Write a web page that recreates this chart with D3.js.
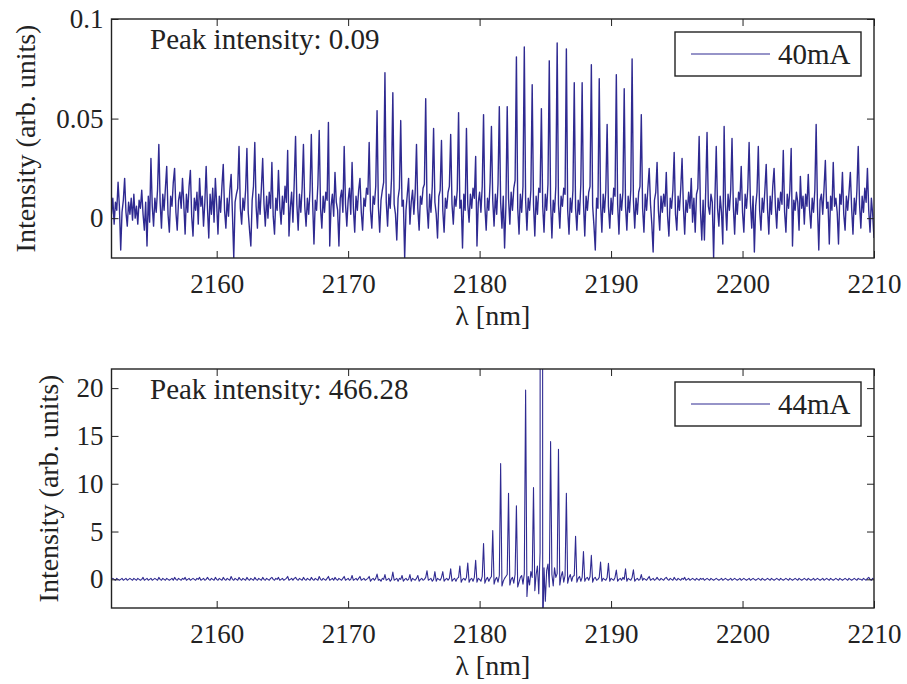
<!DOCTYPE html>
<html>
<head>
<meta charset="utf-8">
<script src="https://cdn.jsdelivr.net/npm/d3@7"></script>
<style>
  body { margin: 0; background: #fff; }
  svg text { font-family: "Liberation Serif", "Times New Roman", serif; fill: #222; }
</style>
</head>
<body>
<div id="chart"></div>
<script>
// wavelength grid of the spectra (nm)
var lambdaStart = 2152, lambdaEnd = 2210, lambdaStep = 0.1;

// 40mA spectrum, values in units of 1e-3 (arb. units), one row per nm
var intensity40mA = [
  2, 10, -3, 8, 4, 18, 6, -16, 3, 9,
  20, 3, -4, 8, 2, 10, -1, 12, 0, 6,
  -3, 9, 5, 14, 2, -6, 8, -14, 11, -2,
  30, 6, -4, 10, 3, 14, 37, 8, -5, 12,
  4, 15, 26, 2, -7, 11, 6, 18, 25, 3,
  -6, 9, 13, 5, 20, 7, -8, 12, 3, 16,
  24, 1, -9, 10, 4, 13, -3, 20, 6, 11,
  -4, 8, 26, 5, -10, 12, 2, 15, -2, 20,
  7, -8, 11, 3, 16, 27, 4, -5, 10, 1,
  14, 22, 2, -20, 8, 12, 15, 36, 5, -3,
  10, 4, 14, 35, 3, -6, -14, 9, 16, 38,
  6, -5, 12, 2, 15, 30, 7, -4, 11, 0,
  13, 5, 28, 1, -8, 10, 4, 24, 6, -3,
  11, 2, 16, 8, 34, -9, 5, 13, -2, 18,
  41, 7, -6, 12, 3, 15, 37, 6, -4, 10,
  2, 14, 42, 8, -13, 9, 4, 17, 44, 5,
  -5, 11, 3, 13, 9, 48, -14, 6, 12, 1,
  23, 8, 4, -14, 10, 14, 3, 36, 7, -4,
  9, 15, 2, 28, 5, -7, 11, 4, 14, 20,
  3, -6, 10, 6, 15, 12, 38, 4, -5, 11,
  7, 16, 54, 6, -7, 9, 14, 18, 73, 8,
  -4, 12, 5, 20, 63, 7, 2, -11, 10, 15,
  49, 6, 9, -20, 4, 12, 20, -3, 8, 14,
  2, 13, 37, 5, -6, 11, 7, 15, 17, 60,
  6, -5, 12, 3, 16, 45, 8, 2, -10, 11,
  14, 39, 4, -7, 10, 5, 13, 16, 42, 7,
  -3, 11, 6, 14, 53, 5, 9, -15, 12, 4,
  45, 7, -2, 12, 5, 15, 10, 31, -14, 8,
  13, 3, 16, 52, 6, -6, 10, 4, 18, 46,
  9, -4, 12, 2, 17, 56, 8, -5, 11, -15,
  6, 56, 10, -3, 13, 4, 15, 19, 81, 5,
  -8, 12, 3, 16, 86, 9, -6, 10, 4, 14,
  67, 7, -9, 11, 2, 15, 13, 55, 6, -7,
  12, 4, 17, 79, 8, -10, 9, 3, 16, 88,
  7, -5, 11, 6, 15, 12, 85, 4, -8, 10,
  3, 14, 68, 5, -6, 9, 2, 17, 68, 8,
  -9, 11, 4, 13, 16, 77, 6, -4, -16, 10,
  5, 70, 8, -7, 12, 3, 14, 47, 6, -5,
  10, 2, 15, 11, 72, 7, -8, 12, 4, 13,
  65, 6, -6, 11, 3, 14, 80, 9, -5, 10,
  2, 13, 16, 52, 5, -7, 12, 4, 15, 25,
  7, -3, -17, 9, 13, 28, 4, -6, 11, 3,
  12, 6, 23, 1, -9, 10, 5, 14, 33, 2,
  -6, 11, 4, 15, 30, 6, -8, 9, 3, 13,
  5, 20, -2, 10, -7, 12, 15, 41, 4, -11,
  9, -11, 14, 43, 6, 2, 12, 8, -20, 10,
  36, 5, -4, 11, 3, -13, 46, 7, -6, 12,
  4, 14, 40, 6, -8, 10, 2, 13, 9, 26,
  3, -7, 12, 5, 15, 38, 8, -5, 11, -17,
  6, 13, 36, 4, -6, 10, 3, 14, 27, 5,
  -8, 11, 2, 16, 25, 6, -5, 10, 4, 13,
  7, 34, 3, -7, 12, 5, 14, 35, -14, 9,
  4, 13, 8, -6, 21, 5, 11, -3, 12, 6,
  22, 4, -5, 10, 3, 14, 47, 6, -16, 9,
  12, 2, 15, 29, 5, 8, -13, 11, 4, 28,
  6, 10, 3, -13, 12, 7, 23, 2, -6, 11,
  4, 13, 23, 5, -8, 10, 2, 14, 36, 7,
  -5, 11, 3, 15, 8, 25, 4, -7, 10, 2,
  -10
];

// 44mA spectrum (arb. units), one row per nm
var intensity44mA = [
  0.0, 0.1, 0.0, -0.1, 0.1, 0.0, -0.1, 0.0, 0.1, -0.1,
  0.0, 0.1, -0.1, 0.0, 0.1, 0.0, -0.1, 0.1, 0.0, -0.1,
  0.1, 0.0, -0.1, 0.0, 0.2, -0.1, 0.0, 0.1, -0.1, 0.0,
  0.1, -0.1, 0.0, 0.1, 0.0, -0.1, 0.2, 0.0, -0.1, 0.1,
  0.0, -0.1, 0.1, 0.0, -0.1, 0.0, 0.1, -0.1, 0.2, 0.0,
  -0.1, 0.1, 0.0, -0.1, 0.1, 0.0, 0.2, -0.1, 0.0, 0.1,
  -0.1, 0.0, 0.1, 0.0, -0.1, 0.1, 0.0, 0.2, -0.1, 0.0,
  0.1, -0.1, 0.0, 0.2, 0.0, -0.1, 0.1, 0.0, -0.1, 0.2,
  0.0, -0.1, 0.1, 0.0, -0.1, 0.2, 0.0, -0.1, 0.1, 0.0,
  -0.1, 0.3, 0.0, -0.1, 0.1, 0.0, -0.1, 0.2, 0.0, -0.1,
  0.1, 0.0, -0.1, 0.2, 0.0, -0.1, 0.1, 0.0, -0.1, 0.2,
  0.0, -0.1, 0.1, 0.0, -0.1, 0.2, 0.0, -0.1, 0.1, 0.0,
  -0.1, 0.1, 0.2, 0.0, -0.1, 0.1, 0.0, 0.2, -0.1, 0.0,
  0.1, -0.1, 0.0, 0.1, 0.3, -0.1, 0.0, 0.1, -0.1, 0.1,
  0.2, 0.0, -0.1, 0.1, 0.0, -0.1, 0.2, 0.0, -0.1, 0.1,
  0.0, -0.1, 0.2, 0.0, -0.1, 0.1, 0.0, -0.1, 0.3, 0.0,
  -0.1, 0.1, 0.0, -0.1, 0.1, 0.3, -0.1, 0.0, 0.1, -0.1,
  0.2, 0.0, -0.1, 0.1, 0.0, -0.1, 0.1, 0.3, -0.1, 0.0,
  0.1, -0.1, 0.0, 0.4, -0.1, 0.0, 0.1, -0.1, 0.1, 0.3,
  -0.1, 0.0, 0.1, -0.1, 0.0, 0.1, 0.3, -0.2, 0.0, 0.1,
  -0.1, 0.1, 0.55, -0.1, 0.0, -0.2, 0.1, 0.0, 0.5, -0.1,
  0.0, 0.1, -0.2, 0.0, 0.75, -0.1, 0.0, 0.1, -0.2, 0.1,
  0.0, 0.4, -0.2, 0.0, 0.1, -0.1, 0.0, 0.5, -0.2, 0.1,
  0.0, -0.1, 0.1, 0.4, -0.2, 0.0, 0.1, -0.1, 0.0, 0.2,
  0.9, -0.1, 0.0, 0.1, -0.2, 0.0, 0.8, -0.2, 0.1, 0.0,
  -0.1, 0.2, 0.8, -0.2, 0.0, 0.1, -0.1, 0.1, 1.1, -0.2,
  0.0, 0.1, -0.2, 0.1, 0.2, 1.4, -0.3, 0.0, 0.1, -0.1,
  0.2, 1.7, -0.3, 0.0, 0.1, -0.2, 0.2, 2.0, -0.3, 0.1,
  0.0, -0.2, 0.3, 3.75, -0.4, 0.0, 0.2, -0.2, 0.1, 0.3,
  5.1, -0.5, 0.0, 0.2, -0.3, 0.4, 12.1, -0.7, -0.2, 0.1,
  0.3, 0.5, 9.0, -0.6, 0.0, 0.2, -0.4, 0.5, 7.7, -0.8,
  -0.3, 0.2, 0.4, -0.5, 0.6, 19.8, -1.8, 0.3, -0.6, 0.8,
  0.2, 9.6, -1.2, 0.5, 1.4, -1.5, 2.8, 466.28, -6.0, 1.2,
  -2.3, 0.9, 1.6, -0.8, 14.4, 0.5, -0.7, 1.2, 0.2, 0.6,
  13.6, -0.6, 0.3, 0.8, -0.3, 0.4, 9.0, -0.4, 0.2, 0.5,
  -0.2, 0.3, 0.4, 4.5, -0.3, 0.1, 0.3, -0.2, 0.2, 2.9,
  -0.2, 0.1, 0.2, -0.1, 0.3, 2.5, -0.3, 0.1, 0.2, -0.1,
  0.0, 0.2, 1.8, -0.2, 0.1, 0.0, -0.1, 0.2, 1.67, -0.2,
  0.1, 0.0, -0.1, 0.2, 0.97, -0.2, 0.0, 0.1, -0.1, 0.2,
  0.0, 1.1, -0.2, 0.1, 0.0, -0.1, 0.2, 1.0, -0.2, 0.0,
  0.1, -0.1, 0.0, 0.5, -0.1, 0.1, 0.0, -0.1, 0.1, 0.3,
  -0.1, 0.0, 0.1, -0.1, 0.0, 0.2, 0.0, -0.1, 0.1, 0.0,
  -0.1, 0.1, 0.2, 0.0, -0.1, 0.1, 0.0, -0.1, 0.2, 0.0,
  -0.1, 0.1, 0.0, -0.1, 0.1, 0.0, 0.2, -0.1, 0.0, 0.1,
  -0.1, 0.0, 0.1, 0.0, -0.1, 0.1, 0.0, -0.1, 0.1, 0.0,
  0.1, -0.1, 0.0, 0.1, 0.0, -0.1, 0.1, 0.0, -0.1, 0.0,
  0.1, 0.0, -0.1, 0.0, 0.1, -0.1, 0.0, 0.1, 0.0, -0.1,
  0.0, 0.1, -0.1, 0.0, 0.1, 0.0, -0.1, 0.0, 0.1, -0.1,
  0.0, 0.1, 0.0, -0.1, 0.0, 0.1, -0.1, 0.0, 0.1, 0.0,
  -0.1, 0.0, 0.1, 0.0, -0.1, 0.1, 0.0, -0.1, 0.0, 0.1,
  0.0, -0.1, 0.1, 0.0, -0.1, 0.0, 0.1, 0.0, -0.1, 0.1,
  0.0, -0.1, 0.0, 0.1, 0.0, -0.1, 0.1, 0.0, -0.1, 0.0,
  0.1, 0.0, -0.1, 0.1, 0.0, -0.1, 0.0, 0.1, 0.0, -0.1,
  0.1, 0.0, -0.1, 0.0, 0.1, -0.1, 0.0, 0.1, 0.0, -0.1,
  0.0, 0.1, -0.1, 0.0, 0.1, 0.0, -0.1, 0.1, 0.0, -0.1,
  0.0, 0.1, 0.0, -0.1, 0.1, 0.0, -0.1, 0.0, 0.1, 0.0,
  -0.1, 0.1, 0.0, -0.1, 0.0, 0.1, 0.0, -0.1, 0.1, 0.0,
  0.0, -0.1, 0.1, 0.0, -0.1, 0.1, 0.2, 0.0, -0.1, 0.1,
  0.0
];

var xTicks = [2160, 2170, 2180, 2190, 2200, 2210];
var yTicks40 = [0, 0.05, 0.1];
var yTickLabels40 = ["0", "0.05", "0.1"];
var yTicks44 = [0, 5, 10, 15, 20];
var yTickLabels44 = ["0", "5", "10", "15", "20"];
var legendLabels = ["40mA", "44mA"];
var peakTexts = ["Peak intensity: 0.09", "Peak intensity: 466.28"];

var W = 907, H = 684;
var lineColor = "#2f2a91";
var tickFs = 27, labelFs = 28, noteFs = 29;
var serif = "'Liberation Serif', 'Times New Roman', serif";

var wavelengths = d3.range(intensity40mA.length).map(function(i) { return lambdaStart + i * lambdaStep; });

var svg = d3.select("#chart").append("svg")
  .attr("width", W)
  .attr("height", H)
  .style("font-family", serif);

var x = d3.scaleLinear().domain([lambdaStart, lambdaEnd]).range([111.5, 874]);

function drawPanel(p) {
  var y = d3.scaleLinear().domain(p.yDomain).range([p.bottom, p.top]);
  var g = svg.append("g");

  g.append("clipPath").attr("id", p.id + "-clip")
    .append("rect")
    .attr("x", x.range()[0]).attr("y", p.top)
    .attr("width", x.range()[1] - x.range()[0])
    .attr("height", p.bottom - p.top);

  var line = d3.line()
    .x(function(d, i) { return x(wavelengths[i]); })
    .y(function(d) { return y(d); });

  g.append("path")
    .datum(p.values)
    .attr("clip-path", "url(#" + p.id + "-clip)")
    .attr("fill", "none")
    .attr("stroke", lineColor)
    .attr("stroke-width", p.lineWidth)
    .attr("stroke-linejoin", "round")
    .attr("d", line);

  // axes with inward ticks on all four sides
  var xb = g.append("g").attr("transform", "translate(0," + p.bottom + ")")
    .call(d3.axisBottom(x).tickValues(xTicks).tickFormat(d3.format("d"))
      .tickSizeInner(-7).tickSizeOuter(0).tickPadding(16));
  var xt = g.append("g").attr("transform", "translate(0," + p.top + ")")
    .call(d3.axisTop(x).tickValues(xTicks).tickFormat("")
      .tickSizeInner(-7).tickSizeOuter(0));
  var yl = g.append("g").attr("transform", "translate(" + x.range()[0] + ",0)")
    .call(d3.axisLeft(y).tickValues(p.yTicks)
      .tickFormat(function(d, i) { return p.yTickLabels[i]; })
      .tickSizeInner(-7).tickSizeOuter(0).tickPadding(8));
  var yr = g.append("g").attr("transform", "translate(" + x.range()[1] + ",0)")
    .call(d3.axisRight(y).tickValues(p.yTicks).tickFormat("")
      .tickSizeInner(-7).tickSizeOuter(0));

  [xb, xt, yl, yr].forEach(function(a) {
    a.attr("font-family", null).attr("font-size", null);
    a.select(".domain").remove();
    a.selectAll("line").attr("stroke", "#222").attr("stroke-width", 1);
    a.selectAll("text")
      .style("font-family", serif)
      .style("font-size", tickFs + "px")
      .attr("fill", "#222");
  });

  g.append("rect")
    .attr("x", x.range()[0]).attr("y", p.top)
    .attr("width", x.range()[1] - x.range()[0])
    .attr("height", p.bottom - p.top)
    .attr("fill", "none")
    .attr("stroke", "#222")
    .attr("stroke-width", 1.4);

  // axis labels
  g.append("text")
    .attr("x", (x.range()[0] + x.range()[1]) / 2)
    .attr("y", p.bottom + 67)
    .attr("text-anchor", "middle")
    .style("font-size", labelFs + "px")
    .text("λ [nm]");

  g.append("text")
    .attr("transform", "translate(" + p.yLabelX + "," + ((p.top + p.bottom) / 2) + ") rotate(-90)")
    .attr("text-anchor", "middle")
    .attr("dy", "0.35em")
    .style("font-size", labelFs + "px")
    .text("Intensity (arb. units)");

  g.append("text")
    .attr("x", 150)
    .attr("y", p.top + 30)
    .style("font-size", noteFs + "px")
    .text(p.peakText);

  // legend
  var lg = g.append("g").attr("transform", "translate(675," + (p.top + 13) + ")");
  lg.append("rect")
    .attr("width", 186).attr("height", 44)
    .attr("fill", "#fff")
    .attr("stroke", "#222")
    .attr("stroke-width", 1.4);
  lg.append("line")
    .attr("x1", 16).attr("x2", 95)
    .attr("y1", 22).attr("y2", 22)
    .attr("stroke", lineColor)
    .attr("stroke-width", 1.2);
  lg.append("text")
    .attr("x", 103).attr("y", 32)
    .style("font-size", noteFs + "px")
    .text(p.legendLabel);
}

drawPanel({
  id: "p40",
  top: 19, bottom: 258,
  values: intensity40mA.map(function(v) { return v / 1000; }),
  yDomain: [-0.02, 0.1],
  yTicks: yTicks40, yTickLabels: yTickLabels40,
  yLabelX: 25,
  lineWidth: 1.4,
  peakText: peakTexts[0],
  legendLabel: legendLabels[0]
});

drawPanel({
  id: "p44",
  top: 369, bottom: 608,
  values: intensity44mA,
  yDomain: [-3, 22],
  yTicks: yTicks44, yTickLabels: yTickLabels44,
  yLabelX: 48,
  lineWidth: 1.1,
  peakText: peakTexts[1],
  legendLabel: legendLabels[1]
});
</script>
</body>
</html>
